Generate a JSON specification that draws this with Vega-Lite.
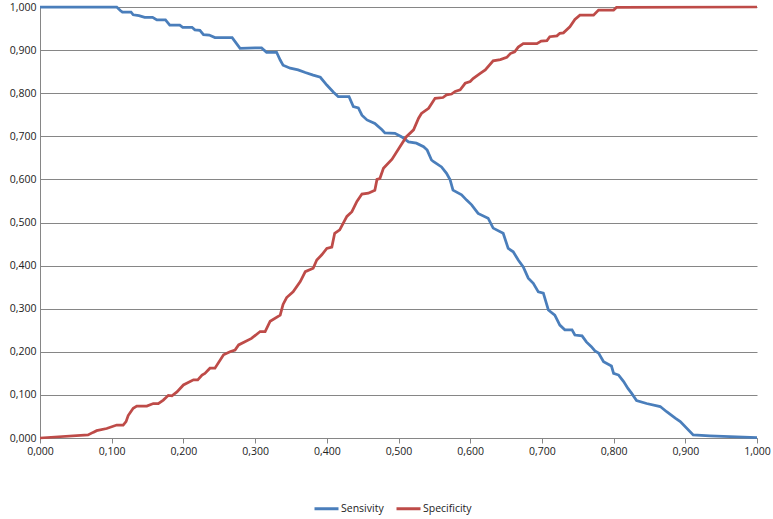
{
  "$schema": "https://vega.github.io/schema/vega-lite/v6.json",
  "width": 717,
  "height": 431,
  "autosize": {"type": "none"},
  "padding": {"left": 40, "top": 7, "right": 16, "bottom": 81},
  "background": "white",
  "config": {
    "view": {"stroke": null},
    "font": "Open Sans",
    "axis": {"labelFont": "Open Sans", "labelFontSize": 10.5, "labelColor": "#222222"}
  },
  "datasets": {
    "sens": [
      {"x":0,"y":1.0},{"x":0.107,"y":1.0},{"x":0.112,"y":0.992},{"x":0.115,"y":0.988},{"x":0.127,"y":0.988},
      {"x":0.130,"y":0.982},{"x":0.138,"y":0.980},{"x":0.146,"y":0.976},{"x":0.157,"y":0.976},{"x":0.163,"y":0.970},
      {"x":0.175,"y":0.970},{"x":0.181,"y":0.958},{"x":0.195,"y":0.958},{"x":0.199,"y":0.953},{"x":0.212,"y":0.953},
      {"x":0.216,"y":0.947},{"x":0.223,"y":0.946},{"x":0.228,"y":0.936},{"x":0.236,"y":0.935},{"x":0.244,"y":0.929},
      {"x":0.268,"y":0.929},{"x":0.279,"y":0.904},{"x":0.300,"y":0.905},{"x":0.309,"y":0.905},{"x":0.316,"y":0.895},
      {"x":0.330,"y":0.895},{"x":0.335,"y":0.877},{"x":0.339,"y":0.865},{"x":0.349,"y":0.858},{"x":0.360,"y":0.854},
      {"x":0.370,"y":0.848},{"x":0.381,"y":0.842},{"x":0.391,"y":0.837},{"x":0.400,"y":0.819},{"x":0.409,"y":0.803},
      {"x":0.416,"y":0.792},{"x":0.431,"y":0.792},{"x":0.437,"y":0.769},{"x":0.444,"y":0.766},{"x":0.449,"y":0.749},
      {"x":0.456,"y":0.738},{"x":0.467,"y":0.730},{"x":0.477,"y":0.715},{"x":0.481,"y":0.708},{"x":0.495,"y":0.707},
      {"x":0.504,"y":0.699},{"x":0.514,"y":0.687},{"x":0.525,"y":0.684},{"x":0.535,"y":0.676},{"x":0.540,"y":0.668},
      {"x":0.546,"y":0.645},{"x":0.549,"y":0.641},{"x":0.560,"y":0.629},{"x":0.567,"y":0.614},{"x":0.572,"y":0.599},
      {"x":0.576,"y":0.575},{"x":0.588,"y":0.564},{"x":0.595,"y":0.552},{"x":0.602,"y":0.541},{"x":0.611,"y":0.521},
      {"x":0.625,"y":0.510},{"x":0.632,"y":0.487},{"x":0.646,"y":0.475},{"x":0.653,"y":0.440},{"x":0.660,"y":0.432},
      {"x":0.667,"y":0.413},{"x":0.674,"y":0.397},{"x":0.681,"y":0.371},{"x":0.688,"y":0.359},{"x":0.695,"y":0.339},
      {"x":0.702,"y":0.336},{"x":0.709,"y":0.297},{"x":0.718,"y":0.285},{"x":0.725,"y":0.262},{"x":0.732,"y":0.251},
      {"x":0.742,"y":0.251},{"x":0.746,"y":0.239},{"x":0.756,"y":0.237},{"x":0.762,"y":0.223},{"x":0.769,"y":0.212},
      {"x":0.774,"y":0.202},{"x":0.779,"y":0.197},{"x":0.786,"y":0.177},{"x":0.797,"y":0.167},{"x":0.800,"y":0.150},
      {"x":0.807,"y":0.146},{"x":0.814,"y":0.131},{"x":0.820,"y":0.115},{"x":0.825,"y":0.104},{"x":0.832,"y":0.087},
      {"x":0.846,"y":0.080},{"x":0.865,"y":0.073},{"x":0.874,"y":0.061},{"x":0.886,"y":0.046},{"x":0.893,"y":0.038},
      {"x":0.911,"y":0.007},{"x":0.934,"y":0.005},{"x":1.0,"y":0.001}
    ],
    "spec": [
      {"x":0,"y":0.0},{"x":0.067,"y":0.007},{"x":0.074,"y":0.013},{"x":0.079,"y":0.017},{"x":0.093,"y":0.022},
      {"x":0.107,"y":0.030},{"x":0.116,"y":0.030},{"x":0.120,"y":0.038},{"x":0.123,"y":0.052},{"x":0.130,"y":0.069},
      {"x":0.135,"y":0.074},{"x":0.149,"y":0.074},{"x":0.158,"y":0.080},{"x":0.165,"y":0.080},{"x":0.172,"y":0.088},
      {"x":0.179,"y":0.099},{"x":0.184,"y":0.098},{"x":0.191,"y":0.107},{"x":0.200,"y":0.123},{"x":0.214,"y":0.135},
      {"x":0.220,"y":0.135},{"x":0.226,"y":0.146},{"x":0.230,"y":0.150},{"x":0.237,"y":0.162},{"x":0.244,"y":0.162},
      {"x":0.256,"y":0.193},{"x":0.265,"y":0.200},{"x":0.272,"y":0.204},{"x":0.277,"y":0.216},{"x":0.295,"y":0.231},
      {"x":0.307,"y":0.247},{"x":0.314,"y":0.247},{"x":0.321,"y":0.271},{"x":0.335,"y":0.285},{"x":0.339,"y":0.310},
      {"x":0.344,"y":0.326},{"x":0.353,"y":0.339},{"x":0.363,"y":0.363},{"x":0.370,"y":0.386},{"x":0.381,"y":0.394},
      {"x":0.386,"y":0.413},{"x":0.393,"y":0.425},{"x":0.400,"y":0.440},{"x":0.407,"y":0.443},{"x":0.411,"y":0.475},
      {"x":0.418,"y":0.483},{"x":0.428,"y":0.514},{"x":0.435,"y":0.525},{"x":0.442,"y":0.549},{"x":0.449,"y":0.566},
      {"x":0.458,"y":0.568},{"x":0.467,"y":0.575},{"x":0.470,"y":0.600},{"x":0.474,"y":0.602},{"x":0.479,"y":0.626},
      {"x":0.491,"y":0.647},{"x":0.502,"y":0.676},{"x":0.511,"y":0.699},{"x":0.521,"y":0.715},{"x":0.528,"y":0.742},
      {"x":0.532,"y":0.753},{"x":0.542,"y":0.765},{"x":0.551,"y":0.788},{"x":0.562,"y":0.790},{"x":0.567,"y":0.796},
      {"x":0.574,"y":0.798},{"x":0.579,"y":0.804},{"x":0.586,"y":0.808},{"x":0.593,"y":0.823},{"x":0.600,"y":0.827},
      {"x":0.604,"y":0.834},{"x":0.614,"y":0.846},{"x":0.621,"y":0.854},{"x":0.632,"y":0.875},{"x":0.642,"y":0.878},
      {"x":0.651,"y":0.883},{"x":0.656,"y":0.892},{"x":0.662,"y":0.896},{"x":0.667,"y":0.907},{"x":0.674,"y":0.915},
      {"x":0.693,"y":0.915},{"x":0.699,"y":0.921},{"x":0.707,"y":0.922},{"x":0.711,"y":0.931},{"x":0.721,"y":0.933},
      {"x":0.725,"y":0.939},{"x":0.730,"y":0.940},{"x":0.739,"y":0.954},{"x":0.746,"y":0.971},{"x":0.753,"y":0.981},
      {"x":0.772,"y":0.981},{"x":0.779,"y":0.993},{"x":0.800,"y":0.993},{"x":0.804,"y":0.999},{"x":1.0,"y":1.0}
    ]
  },
  "layer": [
    {
      "data": {"name": "sens"},
      "transform": [{"calculate": "'Sensivity'", "as": "series"}],
      "mark": {"type": "line", "strokeWidth": 2.75, "interpolate": "linear"},
      "encoding": {
        "x": {"field": "x", "type": "quantitative", "scale": {"domain": [0, 1], "nice": false},
          "axis": {"title": null, "values": [0,0.1,0.2,0.3,0.4,0.5,0.6,0.7,0.8,0.9,1.0], "grid": false,
            "labelExpr": "replace(format(datum.value, '.3f'), '.', ',')",
            "domainColor": "#868686", "tickColor": "#868686", "tickSize": 5, "labelPadding": 3, "labelFlush": false}},
        "y": {"field": "y", "type": "quantitative", "scale": {"domain": [0, 1], "nice": false},
          "axis": {"title": null, "values": [0,0.1,0.2,0.3,0.4,0.5,0.6,0.7,0.8,0.9,1.0], "grid": true,
            "gridColor": "#868686", "gridWidth": 1, "gridOpacity": 1,
            "labelExpr": "replace(format(datum.value, '.3f'), '.', ',')",
            "domainColor": "#868686", "tickSize": 0, "labelPadding": 4, "labelFlush": false}},
        "color": {"field": "series", "type": "nominal",
          "scale": {"domain": ["Sensivity", "Specificity"], "range": ["#4A7EBB", "#BE4B48"]},
          "legend": {"title": null, "orient": "none", "direction": "horizontal", "legendX": 273, "legendY": 488,
            "symbolType": "stroke", "symbolSize": 576, "symbolStrokeWidth": 3,
            "labelFont": "Open Sans", "labelFontSize": 10.5, "labelColor": "#222222", "labelOffset": 1, "columnPadding": 6}}
      }
    },
    {
      "data": {"name": "spec"},
      "transform": [{"calculate": "'Specificity'", "as": "series"}],
      "mark": {"type": "line", "strokeWidth": 2.75, "interpolate": "linear"},
      "encoding": {
        "x": {"field": "x", "type": "quantitative"},
        "y": {"field": "y", "type": "quantitative"},
        "color": {"field": "series", "type": "nominal"}
      }
    }
  ]
}
